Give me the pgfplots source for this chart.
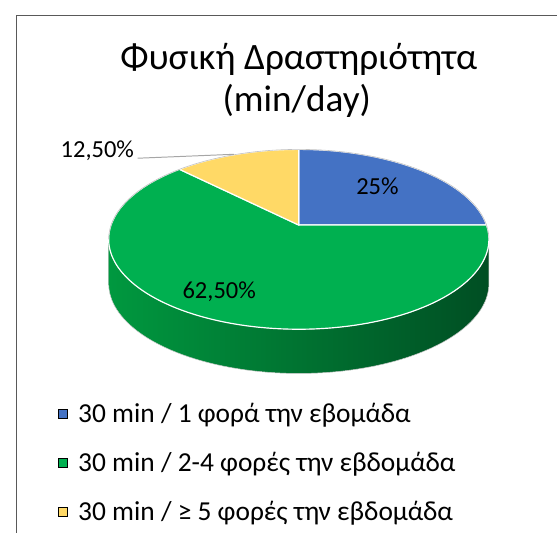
\documentclass[border=0pt]{standalone}
\usepackage{fontspec}
\setmainfont{Carlito}
\usepackage{pgfplots}
\pgfplotsset{compat=1.18}
\usepackage{pgfplotstable}

\definecolor{cblue}{HTML}{4472C4}
\definecolor{cgreen}{HTML}{00B050}
\definecolor{cyellow}{HTML}{FFD966}
\definecolor{sideL}{HTML}{00983F}
\definecolor{sideR}{HTML}{004E23}
\definecolor{frameC}{HTML}{595959}
\definecolor{leader}{HTML}{A6A6A6}

\pgfplotstableread{
share
25
62.5
12.5
}\pietable

\begin{document}
\pgfplotstablegetelem{0}{share}\of\pietable \let\va\pgfplotsretval
\pgfplotstablegetelem{1}{share}\of\pietable \let\vb\pgfplotsretval
\pgfplotstablegetelem{2}{share}\of\pietable \let\vc\pgfplotsretval
\pgfmathsetmacro\aA{90}
\pgfmathsetmacro\aB{90-3.6*\va}
\pgfmathsetmacro\aC{90-3.6*(\va+\vb)}
\pgfmathsetmacro\aD{90-3.6*(\va+\vb+\vc)}
\begin{tikzpicture}
\begin{axis}[
  scale only axis, width=558bp, height=542bp,
  xmin=0, xmax=558, ymin=0, ymax=542,
  hide axis, clip=false,
  declare function={
    px(\t)=295+191*cos(\t)/(1+0.1585*sin(\t));
    py(\t)=313+89.2*sin(\t)/(1+0.1585*sin(\t));
    sx(\s)=(\s<=1) ? px(189.1+161.8*\s) : px(189.1+161.8*(2-\s));
    sy(\s)=(\s<=1) ? py(189.1+161.8*\s) : py(189.1+161.8*(2-\s))-45;
  },
  legend style={at={(axis cs:50,132)}, anchor=north west, draw=none, fill=none,
    font=\fontsize{28}{32}\selectfont, row sep=29bp, column sep=11bp, inner sep=0pt,
    nodes={inner sep=0bp}},
  legend cell align=left,
  legend image code/.code={\fill[#1] (0bp,-4.5bp) rectangle (9bp,4.5bp);},
]
% frame
\draw[frameC, line width=1.5bp] (8,0) -- (8,526) -- (558,526);
% side of the pie
\addplot[forget plot, domain=0:2, samples=161, left color=sideL, right color=sideR, draw=leader!60, line width=0.5bp]
  ({sx(x)},{sy(x)}) -- cycle;
% top slices
\addplot[forget plot, fill=cblue, draw=white, line width=1.2bp, domain=\aB:\aA, samples=60]
  ({px(x)},{py(x)}) -- (295,313) -- cycle;
\addplot[forget plot, fill=cgreen, draw=white, line width=1.2bp, domain=\aC:\aB, samples=120]
  ({px(x)},{py(x)}) -- (295,313) -- cycle;
\addplot[forget plot, fill=cyellow, draw=white, line width=1.2bp, domain=\aD:\aC, samples=40]
  ({px(x)},{py(x)}) -- (295,313) -- cycle;
% back rim
\addplot[forget plot, draw=leader!70, line width=0.6bp, domain=-9.1:189.1, samples=100]
  ({px(x)},{py(x)});
% labels
\node[font=\fontsize{25}{28}\selectfont] at (axis cs:375,352) {25\%};
\node[font=\fontsize{25}{28}\selectfont] at (axis cs:214,245) {62,50\%};
\node[font=\fontsize{25}{28}\selectfont] at (axis cs:90,389) {12,50\%};
\draw[leader, line width=1bp] (axis cs:131,381) -- (axis cs:229,385);
% title
\node[font=\fontsize{38}{44}\selectfont] at (axis cs:295,482) {Φυσική Δραστηριότητα};
\node[font=\fontsize{38}{44}\selectfont] at (axis cs:293,439) {(min/day)};
% legend
\addlegendimage{fill=cblue}
\addlegendentry{30 min / 1 φορά την εβομάδα}
\addlegendimage{fill=cgreen}
\addlegendentry{30 min / 2-4 φορές την εβδομάδα}
\addlegendimage{fill=cyellow}
\addlegendentry{30 min / ≥ 5 φορές την εβδομάδα}
\end{axis}
\useasboundingbox (0,0) rectangle (558bp,542bp);
\end{tikzpicture}
\end{document}
